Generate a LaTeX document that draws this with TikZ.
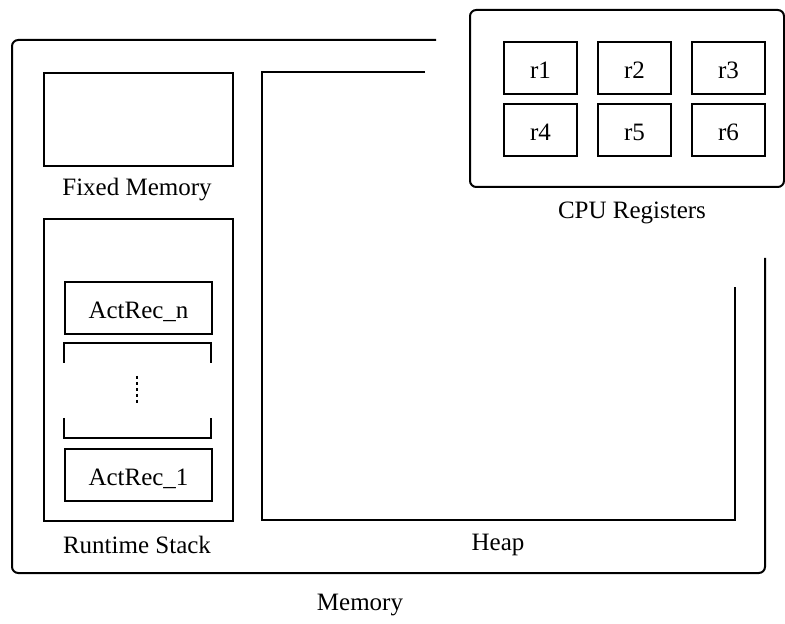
\documentclass[tikz,border=0pt]{standalone}
\usepackage{fontspec}
\setmainfont{Liberation Serif}
\begin{document}
\begin{tikzpicture}[x=0.4pt,y=-0.4pt,
  line width=0.8pt,
  box/.style={draw, line width=0.8pt, inner sep=0pt, anchor=north west},
  lbl/.style={font=\fontsize{10}{12}\selectfont, inner sep=0pt},
  txt/.style={font=\fontsize{10}{12}\selectfont, inner sep=0pt}]
\useasboundingbox (0,0) rectangle (785,624);
% Memory outline
\coordinate (mtr) at (436,40);
\coordinate (mbr) at (765,258);
\draw[rounded corners=2.5pt] (mtr) -- (12,40) -- (12,573) -- (765,573) -- (mbr);
\node[lbl] (memlbl) at (360,605) {Memory};
% CPU registers
\draw[rounded corners=2.5pt] (470,10) rectangle (784,187);
\coordinate (cpu) at (627,98);
\node[lbl] (cpulbl) at (632,213) {CPU Registers};
\foreach \n/\x/\y in {1/503/41,2/597/41,3/691/41,4/503/103,5/597/103,6/691/103}{
  \node[box, minimum width=29.2pt, minimum height=20.8pt] (r\n) at (\x,\y) {};
  \node[txt] (rt\n) at ([yshift=-1pt]r\n.center) {r\n};
}
% Fixed memory
\node[box, minimum width=75.6pt, minimum height=37.2pt] (fixed) at (43,72) {};
\node[lbl] (fixedlbl) at (137,190) {Fixed Memory};
% Runtime stack
\node[box, minimum width=75.6pt, minimum height=120.8pt] (stack) at (43,218) {};
\node[lbl] (stacklbl) at (137,545) {Runtime Stack};
\node[box, minimum width=58.8pt, minimum height=20.8pt] (arn) at (64,281) {};
\node[txt] (arnt) at ([yshift=-1.5pt]arn.center) {ActRec\_n};
\node[box, minimum width=58.8pt, minimum height=20.8pt] (ar1) at (64,448) {};
\node[txt] (ar1t) at ([yshift=-1.5pt]ar1.center) {ActRec\_1};
\coordinate (bt1) at (64,363); \coordinate (bt2) at (211,363);
\draw (bt1) -- (64,343) -- (211,343) -- (bt2);
\coordinate (bb1) at (64,418); \coordinate (bb2) at (211,418);
\draw (bb1) -- (64,438) -- (211,438) -- (bb2);
\coordinate (d1) at (137,376); \coordinate (d2) at (137,405);
\draw[dash pattern=on 1.2pt off 1.2pt] (d1) -- (d2);
% Heap
\coordinate (htr) at (425,72);
\coordinate (hrt) at (735,287);
\draw (htr) -- (262,72) -- (262,520) -- (735,520) -- (hrt);
\node[lbl] (heaplbl) at (498,545) {Heap};
\end{tikzpicture}
\end{document}
